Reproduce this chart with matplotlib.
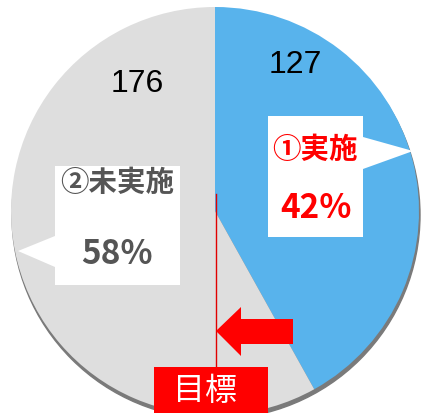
import matplotlib.pyplot as plt
from matplotlib.patches import Polygon, Rectangle, Circle

plt.rcParams['font.family'] = ['Noto Sans CJK JP', 'DejaVu Sans']

# data
counts = [127, 176]
names = ["①実施", "②未実施"]
colors = ["#58b3ec", "#dedede"]
pcts = [round(c * 100 / sum(counts)) for c in counts]

W, H = 422, 414
fig = plt.figure(figsize=(W / 100, H / 100), dpi=100)
ax = fig.add_axes([0, 0, 1, 1])

cx, cy, r = 215, H - 212, 204

# soft shadow under the pie
ax.add_patch(Circle((cx + 1, cy - 4), r, color="#7a7a7a", zorder=0))

ax.pie(counts, colors=colors, startangle=90, counterclock=False,
       center=(cx, cy), radius=r, wedgeprops=dict(linewidth=0))
ax.set_aspect("auto")
ax.set_xlim(0, W)
ax.set_ylim(0, H)
ax.axis("off")

def Y(y):
    return H - y

# count labels
ax.text(295, Y(65), str(counts[0]), ha="center", va="center", fontsize=23,
        family="Liberation Sans")
ax.text(137, Y(84), str(counts[1]), ha="center", va="center", fontsize=23,
        family="Liberation Sans")

# callout 1 (pointer to the right)
pts1 = [(268, 117), (363, 117), (363, 138), (413, 152), (363, 170),
        (363, 238), (268, 238)]
ax.add_patch(Polygon([(x, Y(y)) for x, y in pts1], closed=True,
                     facecolor="white", edgecolor="none", zorder=3))
ax.text(315, Y(150), names[0], ha="center", va="center", fontsize=20.5,
        color="#ff0000", weight="bold", zorder=4)
ax.text(316, Y(208), f"{pcts[0]}%", ha="center", va="center", fontsize=24,
        color="#ff0000", weight="bold", zorder=4)

# callout 2 (pointer to the left)
pts2 = [(55, 167), (180, 167), (180, 286), (55, 286), (55, 268),
        (18, 252), (55, 237)]
ax.add_patch(Polygon([(x, Y(y)) for x, y in pts2], closed=True,
                     facecolor="white", edgecolor="none", zorder=3))
ax.text(117, Y(183), names[1], ha="center", va="center", fontsize=20.5,
        color="#555555", weight="bold", zorder=4)
ax.text(117, Y(255), f"{pcts[1]}%", ha="center", va="center", fontsize=24,
        color="#555555", weight="bold", zorder=4)

# target line, arrow and box
ax.plot([216, 216], [Y(195), Y(368)], color="#e00000", lw=1, zorder=5)
arrow = [(216, 332), (241, 308), (241, 320), (293, 320), (293, 345),
         (241, 345), (241, 357)]
ax.add_patch(Polygon([(x, Y(y)) for x, y in arrow], closed=True,
                     facecolor="#ff0000", edgecolor="none", zorder=5))
ax.add_patch(Rectangle((154, 0), 114, Y(368), facecolor="#ff0000",
                       edgecolor="none", zorder=5))
ax.text(205, Y(391), "目標", ha="center", va="center", fontsize=23,
        color="white", zorder=6)

fig.savefig("out.png", dpi=100)
